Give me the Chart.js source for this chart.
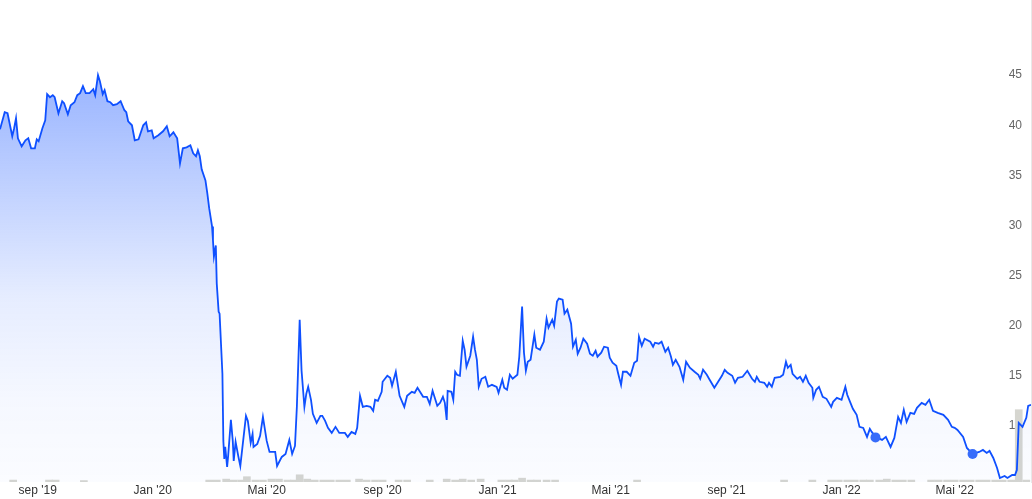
<!DOCTYPE html>
<html>
<head>
<meta charset="utf-8">
<script src="https://cdn.jsdelivr.net/npm/chart.js@4/dist/chart.umd.min.js"></script>
<style>
  html, body { margin: 0; padding: 0; background: #fff; }
  #wrap { width: 1032px; height: 499px; position: relative; }
</style>
</head>
<body>
<div id="wrap"><canvas id="chart"></canvas></div>
<script>
// closing prices
const dates = [
  '2019-07-23','2019-07-28','2019-07-31','2019-08-05','2019-08-07','2019-08-09','2019-08-11','2019-08-15','2019-08-19','2019-08-22',
  '2019-08-25','2019-08-29','2019-08-31','2019-09-02','2019-09-06','2019-09-09','2019-09-11','2019-09-14','2019-09-17','2019-09-19',
  '2019-09-23','2019-09-27','2019-09-29','2019-10-03','2019-10-06','2019-10-10','2019-10-13','2019-10-16','2019-10-19','2019-10-22',
  '2019-10-26','2019-10-30','2019-11-01','2019-11-04','2019-11-06','2019-11-09','2019-11-11','2019-11-14','2019-11-17','2019-11-20',
  '2019-11-24','2019-11-28','2019-12-02','2019-12-04','2019-12-06','2019-12-10','2019-12-13','2019-12-17','2019-12-22','2019-12-25',
  '2019-12-27','2019-12-31','2020-01-02','2020-01-07','2020-01-12','2020-01-16','2020-01-19','2020-01-23','2020-01-27','2020-01-30',
  '2020-02-02','2020-02-06','2020-02-10','2020-02-13','2020-02-16','2020-02-18','2020-02-20','2020-02-22','2020-02-26','2020-02-28',
  '2020-03-01','2020-03-04','2020-03-05','2020-03-06','2020-03-08','2020-03-09','2020-03-11','2020-03-12','2020-03-15','2020-03-16',
  '2020-03-17','2020-03-18','2020-03-20','2020-03-21','2020-03-24','2020-03-26','2020-03-27','2020-03-29','2020-04-01','2020-04-03',
  '2020-04-06','2020-04-09','2020-04-11','2020-04-14','2020-04-16','2020-04-17','2020-04-21','2020-04-24','2020-04-27','2020-05-01',
  '2020-05-04','2020-05-10','2020-05-12','2020-05-17','2020-05-21','2020-05-25','2020-05-28','2020-05-31','2020-06-02','2020-06-05',
  '2020-06-07','2020-06-10','2020-06-12','2020-06-14','2020-06-17','2020-06-19','2020-06-23','2020-06-27','2020-06-29','2020-07-02',
  '2020-07-05','2020-07-09','2020-07-13','2020-07-17','2020-07-23','2020-07-26','2020-07-30','2020-08-03','2020-08-05','2020-08-08',
  '2020-08-11','2020-08-15','2020-08-19','2020-08-22','2020-08-24','2020-08-27','2020-08-31','2020-09-01','2020-09-06','2020-09-09',
  '2020-09-11','2020-09-15','2020-09-19','2020-09-24','2020-09-27','2020-10-02','2020-10-05','2020-10-08','2020-10-14','2020-10-18',
  '2020-10-21','2020-10-24','2020-10-29','2020-11-01','2020-11-04','2020-11-06','2020-11-08','2020-11-09','2020-11-13','2020-11-15',
  '2020-11-17','2020-11-19','2020-11-22','2020-11-25','2020-11-27','2020-11-29','2020-12-03','2020-12-06','2020-12-08','2020-12-10',
  '2020-12-12','2020-12-15','2020-12-19','2020-12-22','2020-12-26','2020-12-31','2021-01-02','2021-01-06','2021-01-08','2021-01-11',
  '2021-01-14','2021-01-17','2021-01-22','2021-01-24','2021-01-27','2021-01-29','2021-01-31','2021-02-02','2021-02-05','2021-02-09',
  '2021-02-11','2021-02-15','2021-02-19','2021-02-22','2021-02-24','2021-02-28','2021-03-02','2021-03-05','2021-03-07','2021-03-11',
  '2021-03-13','2021-03-16','2021-03-20','2021-03-22','2021-03-25','2021-03-27','2021-03-30','2021-04-02','2021-04-06','2021-04-09',
  '2021-04-12','2021-04-15','2021-04-17','2021-04-21','2021-04-24','2021-04-28','2021-04-30','2021-05-03','2021-05-07','2021-05-09',
  '2021-05-12','2021-05-14','2021-05-18','2021-05-22','2021-05-26','2021-05-29','2021-05-31','2021-06-03','2021-06-06','2021-06-12',
  '2021-06-15','2021-06-17','2021-06-21','2021-06-24','2021-06-28','2021-07-01','2021-07-04','2021-07-06','2021-07-09','2021-07-13',
  '2021-07-17','2021-07-20','2021-07-24','2021-07-29','2021-08-02','2021-08-04','2021-08-07','2021-08-11','2021-08-14','2021-08-19',
  '2021-08-23','2021-08-27','2021-08-30','2021-09-02','2021-09-07','2021-09-10','2021-09-13','2021-09-18','2021-09-23','2021-09-28',
  '2021-10-01','2021-10-03','2021-10-06','2021-10-11','2021-10-14','2021-10-16','2021-10-19','2021-10-22','2021-10-28','2021-10-31',
  '2021-11-03','2021-11-05','2021-11-08','2021-11-10','2021-11-15','2021-11-18','2021-11-21','2021-11-24','2021-11-27','2021-12-01',
  '2021-12-02','2021-12-05','2021-12-08','2021-12-12','2021-12-16','2021-12-21','2021-12-23','2021-12-27','2022-01-01','2022-01-05',
  '2022-01-07','2022-01-10','2022-01-13','2022-01-17','2022-01-20','2022-01-24','2022-01-28','2022-01-31','2022-02-02','2022-02-06',
  '2022-02-13','2022-02-17','2022-02-22','2022-02-26','2022-03-02','2022-03-05','2022-03-08','2022-03-11','2022-03-15','2022-03-19',
  '2022-03-22','2022-03-27','2022-03-31','2022-04-04','2022-04-08','2022-04-13','2022-04-19','2022-04-24','2022-04-28','2022-05-01',
  '2022-05-04','2022-05-10','2022-05-14','2022-05-20','2022-05-27','2022-05-31','2022-06-04','2022-06-07','2022-06-11','2022-06-15',
  '2022-06-18','2022-06-23','2022-06-26','2022-07-01','2022-07-04','2022-07-06','2022-07-08','2022-07-12','2022-07-16','2022-07-18',
  '2022-07-21'
];
const prices = [
  39.6,41.3,41.2,38.9,39.7,40.7,38.7,37.9,38.5,38.7,
  37.7,37.7,38.6,38.4,39.7,40.5,43.1,42.8,43.0,42.8,
  41.2,42.4,42.2,41.1,42.0,42.3,43.0,43.2,43.9,43.2,
  43.2,43.6,43.0,45.0,44.4,43.1,43.5,42.4,42.3,42.0,
  42.1,42.4,41.5,41.3,40.4,40.0,38.5,38.6,40.0,40.3,
  39.4,39.5,38.7,39.0,39.4,39.9,38.9,39.3,38.7,36.2,
  37.7,37.8,38.0,37.2,36.9,37.5,36.9,35.6,34.5,33.2,
  31.7,29.9,28.5,26.9,28.0,24.2,21.4,21.2,15.2,8.5,
  6.7,7.9,5.9,6.9,10.6,8.5,6.5,8.4,6.9,6.0,
  8.5,11.0,10.5,8.3,9.2,7.9,8.2,9.0,10.9,8.5,
  7.4,7.4,6.0,6.9,7.2,8.6,7.2,8.0,11.9,20.6,
  15.5,11.9,13.2,13.9,12.6,11.2,10.3,11.0,11.0,10.5,
  9.8,9.3,9.9,9.3,9.3,8.9,9.4,9.2,9.8,13.0,
  11.9,12.0,11.9,11.5,12.6,12.5,13.4,14.4,15.0,14.8,
  14.0,15.4,13.0,11.9,13.0,13.4,13.3,13.8,12.9,12.9,
  12.2,13.5,12.0,12.3,12.9,12.3,10.6,13.5,13.4,12.6,
  15.4,15.1,15.0,18.5,17.6,15.9,17.0,18.9,17.6,16.6,
  13.9,14.7,14.9,13.9,14.1,13.9,13.3,14.6,13.8,13.6,
  15.1,14.7,15.1,16.9,21.9,17.3,15.5,16.4,16.6,19.1,
  17.8,17.6,18.4,20.7,19.8,20.6,20.0,22.4,22.7,22.6,
  21.2,21.6,20.2,17.9,18.6,17.2,17.8,18.7,18.2,17.2,
  17.0,17.5,16.9,17.3,17.9,17.8,16.8,16.3,16.0,15.2,
  14.1,15.4,15.4,15.0,16.3,16.5,18.9,18.0,18.7,18.4,
  17.9,18.3,18.2,18.4,17.4,17.8,16.9,16.1,16.6,15.9,
  14.6,16.4,15.8,15.4,15.1,14.7,15.6,15.1,14.6,13.8,
  14.4,15.0,15.6,15.3,15.0,14.3,14.8,14.9,15.5,14.7,
  14.4,14.9,14.4,14.3,13.9,14.3,13.9,14.8,14.9,15.1,
  16.4,15.8,16.1,15.2,14.7,14.9,14.4,15.0,14.3,13.8,
  12.8,13.6,13.9,12.9,12.7,11.9,12.4,12.8,12.6,13.9,
  13.1,12.4,11.7,11.1,9.9,9.8,8.9,9.7,9.4,8.9,
  8.6,8.9,7.9,8.8,10.9,10.3,11.6,10.4,11.3,11.2,
  11.8,12.3,12.1,12.6,11.5,11.3,11.1,10.6,9.9,9.8,
  9.6,8.9,7.8,7.2,7.4,7.6,7.3,7.5,6.8,5.8,
  4.8,5.0,4.8,5.1,5.1,5.6,10.3,9.9,10.8,12.0,
  12.1
];

// event markers on the line
const eventDates = ['2022-02-06', '2022-05-20'];
const eventValues = [8.85, 7.2];

// traded volume (millions)
const volDates = [
  '2019-08-06','2019-09-13','2019-09-20','2019-10-20','2020-03-01','2020-03-09','2020-03-19','2020-03-27','2020-04-04','2020-04-10',
  '2020-04-19','2020-04-27','2020-05-06','2020-05-14','2020-05-23','2020-05-30','2020-06-05','2020-06-13','2020-06-21','2020-06-30',
  '2020-07-08','2020-07-17','2020-07-25','2020-08-07','2020-08-15','2020-08-24','2020-09-01','2020-09-18','2020-09-27','2020-10-21',
  '2020-11-08','2020-11-17','2020-11-25','2020-12-04','2020-12-14','2021-01-05','2021-01-13','2021-01-19','2021-01-27','2021-02-05',
  '2021-02-12','2021-02-22','2021-03-03','2021-05-29','2021-11-01','2021-12-01','2021-12-21','2021-12-29','2022-01-07','2022-01-15',
  '2022-01-24','2022-01-31','2022-02-10','2022-02-18','2022-02-27','2022-03-07','2022-03-16','2022-04-06','2022-04-14','2022-04-23',
  '2022-05-01','2022-05-10','2022-05-18','2022-05-27','2022-06-04','2022-06-13','2022-06-21','2022-06-30','2022-07-08','2022-07-16'
];
const volumes = [
  0.4,0.4,0.4,0.3,0.4,0.4,0.6,0.4,0.4,1.1,
  0.4,0.4,0.6,0.6,0.4,0.4,1.5,0.6,0.4,0.4,
  0.4,0.4,0.4,0.6,0.4,0.4,0.4,0.4,0.4,0.4,
  0.6,0.4,0.6,0.4,0.6,0.4,0.4,0.4,0.8,0.4,
  0.4,0.4,0.4,0.4,0.4,0.4,0.4,0.4,0.4,0.4,
  0.4,0.4,0.4,0.6,0.4,0.4,0.4,0.4,0.4,0.4,
  0.4,0.4,0.4,0.4,0.4,0.4,0.4,0.4,15.0,0.4
];

const xTickDates = ['2019-09-01','2020-01-01','2020-05-01','2020-09-01','2021-01-01','2021-05-01','2021-09-01','2022-01-01','2022-05-01'];
const xTickLabels = ["sep '19", "Jan '20", "Mai '20", "sep '20", "Jan '21", "Mai '21", "sep '21", "Jan '22", "Mai '22"];
const yTicks = [10, 15, 20, 25, 30, 35, 40, 45];

const toTime = s => Date.parse(s + 'T00:00:00Z');
const font = { family: "'Liberation Sans', Arial, sans-serif", size: 12 };

function areaFill(context) {
  const area = context.chart.chartArea;
  if (!area) return 'rgba(30,90,255,0.2)';
  const g = context.chart.ctx.createLinearGradient(0, area.top, 0, area.bottom);
  g.addColorStop(0, 'rgba(30,90,255,0.52)');
  g.addColorStop(0.2, 'rgba(30,90,255,0.42)');
  g.addColorStop(0.4, 'rgba(30,90,255,0.27)');
  g.addColorStop(0.62, 'rgba(30,90,255,0.11)');
  g.addColorStop(0.83, 'rgba(30,90,255,0.045)');
  g.addColorStop(1, 'rgba(30,90,255,0.02)');
  return g;
}

new Chart(document.getElementById('chart'), {
  type: 'line',
  data: {
    datasets: [
      {
        type: 'line',
        label: 'Koers',
        data: dates.map((d, i) => ({ x: toTime(d), y: prices[i] })),
        borderColor: 'rgb(15,80,255)',
        borderWidth: 1.8,
        backgroundColor: areaFill,
        fill: 'start',
        pointRadius: 0,
        tension: 0,
        yAxisID: 'y',
        order: 1
      },
      {
        type: 'line',
        label: 'Events',
        data: eventDates.map((d, i) => ({ x: toTime(d), y: eventValues[i] })),
        showLine: false,
        pointRadius: 5,
        pointBorderWidth: 0,
        pointBackgroundColor: 'rgb(55,108,250)',
        yAxisID: 'y',
        order: 0
      },
      {
        type: 'bar',
        label: 'Volume',
        data: volDates.map((d, i) => ({ x: toTime(d), y: volumes[i] })),
        backgroundColor: 'rgb(214,214,208)',
        barThickness: 7,
        yAxisID: 'yv',
        order: 2
      }
    ]
  },
  options: {
    responsive: true,
    maintainAspectRatio: false,
    animation: false,
    layout: { autoPadding: false, padding: 0 },
    plugins: { legend: { display: false }, tooltip: { enabled: false } },
    scales: {
      x: {
        type: 'linear',
        min: toTime('2019-07-23'),
        max: toTime('2022-07-21'),
        offset: false,
        grid: { display: false, drawTicks: false },
        border: { display: false },
        ticks: {
          color: '#333',
          padding: 1,
          maxRotation: 0,
          autoSkip: false,
          font: font,
          callback: (value, index) => xTickLabels[index]
        },
        afterBuildTicks: scale => {
          scale.ticks = xTickDates.map(d => ({ value: toTime(d) }));
        },
        afterFit: scale => { scale.height = 17; }
      },
      y: {
        position: 'right',
        min: 4.4,
        max: 52.5,
        grid: { display: false, drawTicks: false },
        border: { display: true, color: '#e8e8e8' },
        ticks: { mirror: true, padding: -9, color: '#666', font: font },
        afterBuildTicks: scale => {
          scale.ticks = yTicks.map(v => ({ value: v }));
        },
        afterFit: scale => { scale.width = 1; }
      },
      yv: {
        display: false,
        min: 0,
        max: 100
      }
    }
  }
});
</script>
</body>
</html>
